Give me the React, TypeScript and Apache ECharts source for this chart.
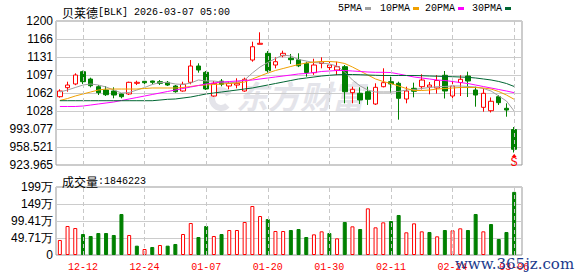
import React, { useEffect, useRef } from "react";
import * as echarts from "echarts";

const stockName = "贝莱德";
const stockCode = "BLK";
const timestamp = "2026-03-07 05:00";
const volumeTitle = "成交量";
const lastVolume = 1846223;

const dates = [
  "12-09","12-10","12-11","12-12","12-15","12-16","12-17","12-18","12-19","12-22",
  "12-23","12-24","12-26","12-29","12-30","12-31","01-02","01-05","01-06","01-07",
  "01-08","01-09","01-12","01-13","01-14","01-15","01-16","01-20","01-21","01-22",
  "01-23","01-26","01-27","01-28","01-29","01-30","02-02","02-03","02-04","02-05",
  "02-06","02-09","02-10","02-11","02-12","02-13","02-17","02-18","02-19","02-20",
  "02-23","02-24","02-25","02-26","02-27","03-02","03-03","03-04","03-05","03-06",
];
const labelDates = ["12-12","12-24","01-07","01-20","01-30","02-11","02-24","03-06"];

const opens = [
  1055.1,1072.4,1079.5,1103.1,1089.0,1074.3,1067.9,1066.0,1060.3,1060.3,
  1080.8,1084.6,1085.2,1083.9,1082.7,1075.6,1066.0,1082.7,1114.0,1101.9,
  1056.4,1085.0,1075.6,1077.5,1066.0,1125.5,1155.7,1138.4,1115.9,1133.8,
  1129.0,1126.0,1119.0,1101.2,1118.8,1111.0,1106.3,1112.7,1062.8,1061.6,
  1064.7,1041.1,1074.3,1083.9,1080.8,1050.7,1071.2,1074.3,1073.7,1071.8,
  1096.2,1056.4,1082.3,1094.8,1067.9,1034.7,1028.2,1055.1,1032.8,992.1,
];
const closes = [
  1066.0,1077.5,1096.7,1083.9,1076.2,1062.8,1058.9,1058.3,1055.1,1082.7,
  1082.7,1081.9,1082.7,1080.8,1077.5,1064.7,1079.0,1114.0,1106.3,1069.9,
  1080.8,1079.0,1080.8,1080.8,1088.5,1151.0,1157.6,1105.0,1122.3,1138.4,
  1126.1,1114.4,1101.6,1115.9,1122.0,1115.9,1112.7,1064.7,1069.3,1048.8,
  1050.1,1073.1,1082.0,1079.5,1052.0,1066.0,1065.5,1087.1,1077.5,1086.2,
  1066.0,1075.6,1088.5,1085.2,1058.3,1061.6,1046.3,1043.6,1029.5,954.1,
];
const lows = [
  1053.2,1064.7,1077.2,1079.5,1073.0,1058.3,1056.4,1052.0,1052.0,1058.3,
  1077.5,1077.5,1078.9,1077.5,1075.6,1062.8,1064.7,1078.9,1101.2,1067.9,
  1055.1,1075.0,1069.3,1071.2,1064.7,1122.3,1155.7,1101.2,1109.6,1130.7,
  1117.9,1111.9,1093.5,1097.0,1109.6,1100.0,1096.7,1042.4,1042.4,1041.1,
  1039.2,1039.2,1073.0,1062.8,1011.0,1042.4,1053.9,1068.9,1059.7,1061.2,
  1051.6,1045.5,1056.4,1054.5,1035.9,1026.3,1024.8,1039.2,1016.7,947.96,
];
const highs = [
  1069.3,1083.9,1100.0,1105.0,1091.6,1077.5,1075.6,1073.1,1061.6,1083.9,
  1085.8,1089.6,1086.0,1087.1,1085.2,1077.5,1083.9,1125.5,1119.2,1104.4,
  1085.2,1089.0,1083.9,1090.4,1091.6,1160.7,1178.7,1142.8,1130.7,1143.4,
  1137.1,1138.4,1122.3,1128.0,1130.7,1122.3,1122.3,1115.9,1074.3,1073.1,
  1074.3,1080.8,1109.6,1093.5,1083.9,1074.3,1082.0,1098.2,1083.3,1096.7,
  1104.4,1089.0,1096.3,1103.1,1074.3,1071.2,1053.6,1058.3,1042.4,996.9,
];

const ma5 = [
  1064.1,1067.9,1072.7,1077.5,1079.5,1077.5,1073.7,1067.9,1062.2,1063.1,
  1067.9,1072.7,1078.5,1082.3,1082.3,1079.5,1078.5,1081.4,1087.2,1085.2,
  1085.2,1083.3,1081.4,1083.3,1087.2,1100.6,1112.1,1120.7,1128.4,1135.1,
  1133.2,1126.5,1123.6,1120.7,1119.8,1117.9,1114.0,1102.5,1087.2,1075.6,
  1067.9,1064.1,1064.1,1064.1,1065.1,1067.9,1068.9,1070.8,1072.7,1074.3,
  1074.7,1075.6,1075.6,1074.7,1073.7,1070.8,1066.0,1056.4,1046.8,1027.6,
];
const ma10 = [
  1047.8,1051.6,1056.4,1060.3,1064.1,1067.9,1069.8,1069.8,1069.8,1069.8,
  1069.8,1070.8,1071.8,1071.8,1071.8,1071.8,1072.7,1074.7,1076.6,1077.5,
  1078.5,1079.5,1080.4,1081.4,1083.3,1089.1,1094.8,1100.6,1105.4,1109.2,
  1113.1,1116.9,1119.8,1121.7,1122.7,1122.7,1121.7,1118.8,1112.1,1104.4,
  1096.7,1089.1,1084.2,1080.4,1075.6,1070.8,1067.0,1067.0,1067.9,1069.8,
  1070.8,1071.8,1072.7,1072.7,1072.7,1071.8,1069.8,1065.0,1058.3,1050.1,
];
const ma20 = [
  1036.3,1036.3,1036.3,1037.2,1039.1,1041.1,1043.0,1044.9,1047.8,1050.7,
  1053.5,1056.4,1059.3,1062.2,1065.1,1067.9,1070.8,1073.7,1076.6,1079.5,
  1081.4,1083.3,1084.2,1085.2,1086.2,1087.1,1089.1,1091.0,1092.9,1094.8,
  1096.7,1098.7,1099.6,1101.5,1103.5,1104.4,1105.4,1105.4,1104.4,1103.5,
  1102.5,1101.9,1101.9,1101.5,1098.7,1095.8,1092.9,1091.0,1089.1,1087.1,
  1086.2,1084.2,1082.3,1080.4,1077.5,1074.6,1071.8,1068.9,1066.0,1062.8,
];
const ma30 = [
  1047.4,1047.4,1047.4,1047.4,1047.4,1047.4,1047.4,1047.4,1047.4,1047.4,
  1047.4,1047.4,1047.4,1048.7,1050.1,1050.7,1052.6,1054.5,1057.4,1060.3,
  1062.2,1064.1,1066.0,1067.9,1069.9,1071.8,1074.7,1077.5,1080.4,1083.3,
  1086.2,1089.1,1091.0,1092.9,1094.8,1096.2,1097.3,1097.7,1097.7,1097.3,
  1096.7,1096.2,1095.8,1095.8,1095.8,1095.8,1095.8,1095.4,1094.8,1094.4,
  1093.9,1093.5,1092.9,1092.3,1091.0,1089.1,1087.2,1084.3,1080.4,1074.7,
];

// volume in 万 (10,000 shares)
const volumes = [
  43.9,84.8,78.9,61.4,55.6,64.3,64.3,58.5,119.9,58.5,
  27.3,17.5,23.4,29.2,27.3,32.2,61.4,93.6,52.6,84.8,
  55.6,61.4,73.1,73.1,96.5,143.3,114.0,105.3,70.2,70.2,
  73.1,76.0,52.6,60.4,69.2,64.3,48.7,96.5,83.8,76.0,
  136.4,80.9,95.5,99.4,117.0,66.3,92.6,69.2,67.3,54.6,
  73.1,72.1,78.0,73.1,119.9,69.2,90.6,46.8,67.3,184.6223,
];
const volumeUp = [
  1,1,1,0,0,0,0,0,0,1,
  0,1,0,1,0,0,1,1,0,0,
  1,0,1,1,1,1,1,0,1,1,
  0,0,0,1,1,0,1,0,1,0,
  1,1,1,0,0,1,1,1,0,1,
  0,1,1,0,0,1,0,0,0,0,
];

const priceTicks = ["923.965","958.521","993.077","1028","1062","1097","1131","1166","1200"];
const volumeTicks = ["0","49.71万","99.41万","149万","199万"];
const priceMin = 923.965;
const priceMax = 1200.413;
const volumeMax = 198.84;

const maNames = ["5PMA","10PMA","20PMA","30PMA"];
const maColors = ["#a0a0a0","#f0a000","#ff00ff","#006633"];
const maData = [ma5, ma10, ma20, ma30];

const MONO = '"Liberation Mono","DejaVu Sans Mono",monospace';
const CJK = '"Noto Sans CJK SC",sans-serif';
const SANS = '"Liberation Sans",Arial,sans-serif';
const UP = "#ff0000";
const DOWN = "#008000";

export default function App() {
  const ref = useRef<HTMLDivElement>(null);
  useEffect(() => {
    if (!ref.current) return;
    const chart = echarts.init(ref.current, undefined, { renderer: "svg" });

    const legendX = [338, 380, 425, 472];
    const legendGraphics: any[] = [];
    maNames.forEach((n, i) => {
      legendGraphics.push({
        type: "text", left: legendX[i], top: 3,
        style: { text: n, font: `10px ${MONO}`, fill: "#000" },
      });
      legendGraphics.push({
        type: "rect", left: legendX[i] + (n.length * 6) + 3, top: 7,
        shape: { width: 6, height: 3 },
        style: { fill: maColors[i] },
      });
    });

    const vlines = {
      silent: true,
      symbol: ["none", "none"],
      label: { show: false },
      lineStyle: { type: [4, 3], color: "#c8c8c8", width: 1 },
      data: labelDates.map((d) => ({ xAxis: d })),
    };

    const richTitle = {
      a: { fontFamily: CJK, fontSize: 12, color: "#000", fontWeight: "normal" },
      b: { fontFamily: MONO, fontSize: 10, color: "#000", fontWeight: "normal" },
    };

    const option: any = {
      animation: false,
      backgroundColor: "#fff",
      title: [
        {
          left: 57, top: 1,
          text: `{a|${stockName}}{b|[${stockCode}] ${timestamp}}`,
          textStyle: { fontWeight: "normal", rich: richTitle },
        },
        {
          left: 57, top: 170,
          text: `{a|${volumeTitle}}{b|:${lastVolume}}`,
          textStyle: { fontWeight: "normal", rich: richTitle },
        },
      ],
      graphic: [
        {
          type: "arc", z: -1,
          shape: { cx: 221, cy: 99, r: 9, startAngle: Math.PI * 0.25, endAngle: Math.PI * 1.85 },
          style: { stroke: "#e4e4ea", lineWidth: 6, fill: "none" },
        },
        {
          type: "text", left: 236, top: 79, z: -1,
          style: {
            text: "东方财富", font: `italic bold 32px ${CJK}`,
            fill: "#e4e4ea",
          },
        },
        {
          type: "text", left: 455, top: 256, z: 100,
          style: { text: "www.365jz.com", font: `15px "DejaVu Serif",serif`, fill: "#1b3a8c" },
        },
        ...legendGraphics,
      ],
      grid: [
        { left: 56, top: 21, width: 466, height: 144, show: true, borderColor: "#999", borderWidth: 1, backgroundColor: "transparent" },
        { left: 56, top: 21, width: 462, height: 144 },
        { left: 56, top: 187, width: 466, height: 68, show: true, borderColor: "#999", borderWidth: 1, backgroundColor: "transparent" },
        { left: 56, top: 187, width: 462, height: 68 },
      ],
      xAxis: [
        { gridIndex: 0, type: "value", min: 0, max: 1, show: false },
        { gridIndex: 1, type: "category", data: dates, boundaryGap: true, show: false },
        { gridIndex: 2, type: "value", min: 0, max: 1, show: false },
        {
          gridIndex: 3, type: "category", data: dates, boundaryGap: true,
          axisLine: { show: false }, axisTick: { show: false }, splitLine: { show: false },
          axisLabel: {
            interval: (_i: number, v: string) => labelDates.includes(v),
            color: "#ff0000", fontFamily: MONO, fontSize: 10, margin: 7,
          },
        },
      ],
      yAxis: [
        {
          gridIndex: 0, type: "value", min: 0, max: 8, interval: 1,
          axisLine: { show: false }, axisTick: { show: false },
          axisLabel: { formatter: (v: number) => priceTicks[Math.round(v)], color: "#000", fontFamily: SANS, fontSize: 12, margin: 3 },
          splitLine: { lineStyle: { color: "#cccccc", width: 1 } },
        },
        { gridIndex: 1, type: "value", min: priceMin, max: priceMax, show: false, splitLine: { show: false } },
        {
          gridIndex: 2, type: "value", min: 0, max: 4, interval: 1,
          axisLine: { show: false }, axisTick: { show: false },
          axisLabel: { formatter: (v: number) => volumeTicks[Math.round(v)], color: "#000", fontFamily: SANS, fontSize: 12, margin: 3 },
          splitLine: { lineStyle: { color: "#cccccc", width: 1 } },
        },
        { gridIndex: 3, type: "value", min: 0, max: volumeMax, show: false, splitLine: { show: false } },
      ],
      series: [
        { type: "line", xAxisIndex: 1, yAxisIndex: 1, data: [], z: 1, markLine: vlines },
        { type: "line", xAxisIndex: 3, yAxisIndex: 3, data: [], z: 1, markLine: vlines },
        {
          type: "candlestick", xAxisIndex: 1, yAxisIndex: 1, barWidth: 5,
          data: dates.map((_, i) => [opens[i], closes[i], lows[i], highs[i]]),
          itemStyle: { color: "#ffffff", color0: DOWN, borderColor: UP, borderColor0: DOWN, borderWidth: 1 },
          markPoint: {
            silent: true,
            symbol: "triangle", symbolSize: [5, 3], symbolOffset: [0, 3],
            itemStyle: { color: UP },
            label: { show: true, formatter: "S", position: "bottom", distance: 0, color: UP, fontFamily: MONO, fontSize: 12 },
            data: [{ coord: [dates[dates.length - 1], lows[lows.length - 1]] }],
          },
        },
        ...maNames.map((n, k) => ({
          type: "line", name: n, xAxisIndex: 1, yAxisIndex: 1, data: maData[k],
          symbol: "none", lineStyle: { width: 1, color: maColors[k] }, itemStyle: { color: maColors[k] },
        })),
        {
          type: "bar", xAxisIndex: 3, yAxisIndex: 3, barWidth: 4,
          data: volumes.map((v, i) => ({
            value: v,
            itemStyle: volumeUp[i]
              ? { color: "#ffffff", borderColor: UP, borderWidth: 1 }
              : { color: DOWN, borderColor: DOWN, borderWidth: 1 },
          })),
        },
      ],
    };
    chart.setOption(option);
    return () => chart.dispose();
  }, []);
  return <div ref={ref} style={{ position: "fixed", left: 0, top: 0, width: 578, height: 276 }} />;
}
